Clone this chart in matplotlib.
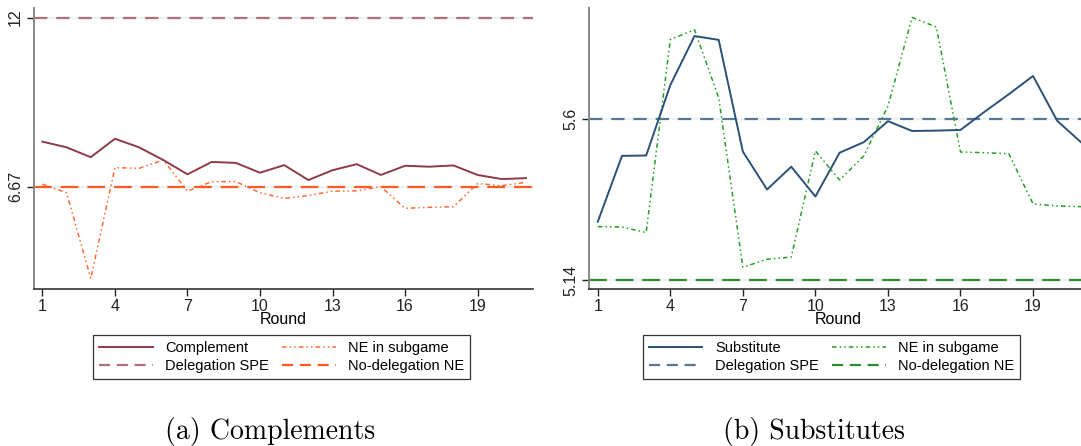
"""Delegation experiment: average choices by round, complements vs substitutes"""
import matplotlib; matplotlib.use("Agg")
import matplotlib.pyplot as plt
from matplotlib.lines import Line2D

plt.rcParams['font.family'] = ['Liberation Sans', 'DejaVu Sans']

rounds = list(range(1, 22))
xticks = [1, 4, 7, 10, 13, 16, 19]

# (a) complements
comp = [8.09, 7.91, 7.60, 8.18, 7.91, 7.51, 7.06, 7.45, 7.42, 7.11, 7.35,
        6.88, 7.19, 7.38, 7.04, 7.33, 7.30, 7.34, 7.04, 6.91, 6.94]
comp_ne = [6.75, 6.48, 3.78, 7.27, 7.25, 7.51, 6.53, 6.83, 6.83, 6.48, 6.30,
           6.39, 6.53, 6.54, 6.67, 5.99, 6.02, 6.04, 6.77, 6.70, 6.81]
comp_spe = 12.0
comp_nodel = 6.67

# (b) substitutes
subs = [5.306, 5.494, 5.495, 5.696, 5.836, 5.825, 5.506, 5.398, 5.463, 5.378, 5.503,
        5.533, 5.593, 5.565, 5.566, 5.568, 5.620, 5.670, 5.722, 5.594, 5.532]
subs_ne = [5.292, 5.291, 5.275, 5.826, 5.854, 5.660, 5.176, 5.199, 5.205, 5.508, 5.425,
           5.494, 5.636, 5.889, 5.862, 5.505, 5.503, 5.500, 5.357, 5.351, 5.349]
subs_spe = 5.6
subs_nodel = 5.14

W, H = 1081, 446
fig = plt.figure(figsize=(W/100, H/100), dpi=100)

def px(l, t, r, b):
    return [l/W, 1-b/H, (r-l)/W, (b-t)/H]

NE_DASH = (0, (3, 2, 1, 2, 1, 2))

def panel(ax, main, ne, spe, nodel, ylim, yt, ylab, cols):
    c_main, c_spe, c_ne, c_nodel = cols
    for y in yt:
        ax.axhline(y, color='#EAF2F3', lw=1.6, zorder=0)
    ax.axhline(spe, color=c_spe, lw=1.6, dashes=(6, 4), zorder=2)
    ax.axhline(nodel, color=c_nodel, lw=1.6, dashes=(8, 4), zorder=2)
    ax.plot(rounds, ne, color=c_ne, lw=1.1, linestyle=NE_DASH, zorder=3)
    ax.plot(rounds, main, color=c_main, lw=1.4, zorder=4)
    ax.set_xlim(0.636, 21.29)
    ax.set_ylim(*ylim)
    ax.set_xticks(xticks)
    ax.set_yticks(yt)
    ax.set_yticklabels(ylab, rotation=90, va='center')
    ax.tick_params(axis='y', length=5, width=1, colors='#222222', labelsize=11.5, pad=2.5)
    ax.tick_params(axis='x', length=5, width=1, colors='#222222', labelsize=11.5, pad=2.5)
    for s in ['top', 'right']:
        ax.spines[s].set_visible(False)
    ax.spines['left'].set_color('#888888')
    ax.spines['left'].set_linewidth(1.4)
    ax.spines['bottom'].set_color('#333333')
    ax.spines['bottom'].set_linewidth(1.2)
    ax.set_xlabel("Round", fontsize=11.5, labelpad=-2)
    handles = [Line2D([], [], color=c_main, lw=1.4),
               Line2D([], [], color=c_spe, lw=1.6, dashes=(5, 3)),
               Line2D([], [], color=c_ne, lw=1.1, linestyle=NE_DASH),
               Line2D([], [], color=c_nodel, lw=1.6, dashes=(5, 3))]
    return handles

ax1 = fig.add_axes(px(33.6, 8, 533, 289))
h1 = panel(ax1, comp, comp_ne, comp_spe, comp_nodel, (3.447, 12.30), [6.67, 12],
           ["6.67", "12"], ['#8E3A48', '#B0707A', '#FF6A33', '#FF5A22'])
ax2 = fig.add_axes(px(589, 8, 1088.4, 289))
h2 = panel(ax2, subs, subs_ne, subs_spe, subs_nodel, (5.114, 5.916), [5.14, 5.6],
           ["5.14", "5.6"], ['#2B5177', '#5A7896', '#22A022', '#2E8B2E'])

for h, labs, (l, r) in [
        (h1, ["Complement", "Delegation SPE", "NE in subgame", "No-delegation NE"], (93.3, 470)),
        (h2, ["Substitute", "Delegation SPE", "NE in subgame", "No-delegation NE"], (642.7, 1020))]:
    b = px(l, 334, r, 380)
    leg = fig.legend(h, labs, ncol=2, loc='center', bbox_to_anchor=b, mode='expand',
                     fontsize=10.5, frameon=True, fancybox=False, borderaxespad=0,
                     handlelength=3.7, handletextpad=0.85, columnspacing=2.4,
                     labelspacing=0.3, borderpad=0.4)
    leg.get_frame().set_edgecolor('black')
    leg.get_frame().set_linewidth(0.9)

fig.text(270/W, 1-432/H, "(a) Complements", family='cmr10', fontsize=20,
         ha='center', va='center')
fig.text(814/W, 1-432/H, "(b) Substitutes", family='cmr10', fontsize=20,
         ha='center', va='center')

plt.savefig("out.png", dpi=100)
plt.close()
